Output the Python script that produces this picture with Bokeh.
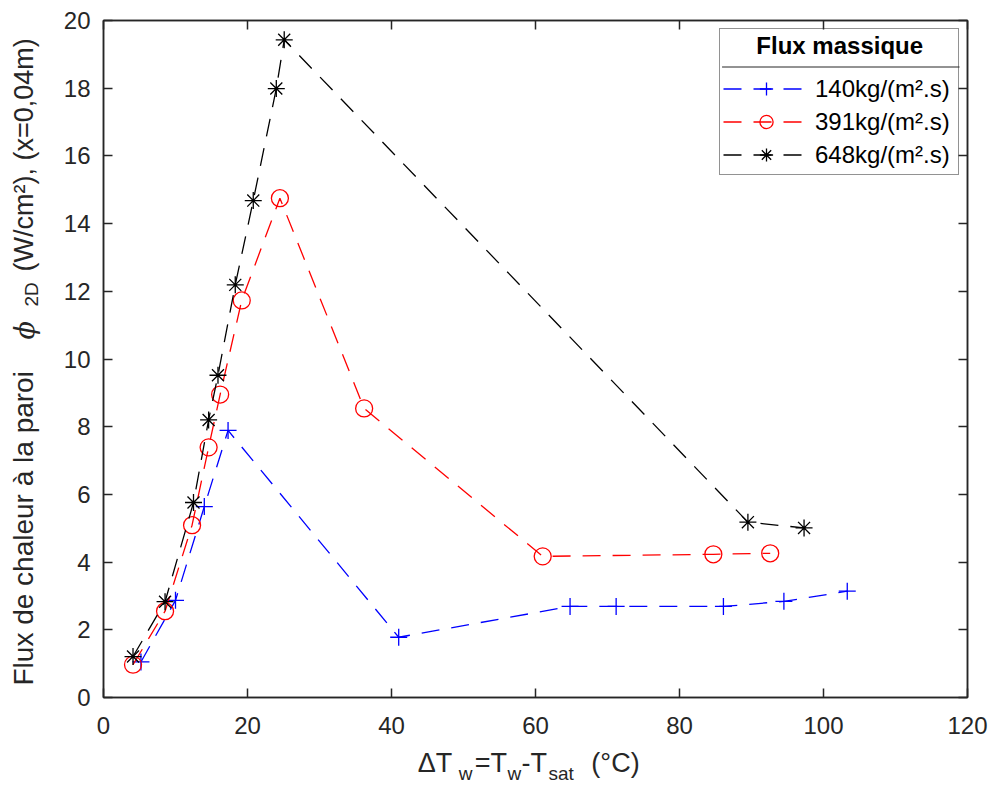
import math
from bokeh.plotting import figure
from bokeh.layouts import row, column
from bokeh.models import Range1d, LinearAxis, Legend, LegendItem, FixedTicker
from bokeh.core.properties import value
from bokeh.embed import file_html
from bokeh.resources import INLINE

# ---------------- data ----------------
x_ticks = [0, 20, 40, 60, 80, 100, 120]
y_ticks = [0, 2, 4, 6, 8, 10, 12, 14, 16, 18, 20]

legend_title = "Flux massique"
labels = ["140kg/(m².s)", "391kg/(m².s)", "648kg/(m².s)"]

dT_140 = [5.2, 10.0, 14.0, 17.3, 41.0, 64.8, 71.2, 86.1, 94.5, 103.3]
phi_140 = [1.05, 2.87, 5.64, 7.89, 1.78, 2.69, 2.69, 2.69, 2.84, 3.14]

dT_391 = [4.1, 8.55, 12.3, 14.6, 16.2, 19.2, 24.5, 36.2, 61.0, 84.7, 92.6]
phi_391 = [0.97, 2.55, 5.09, 7.39, 8.95, 11.73, 14.75, 8.54, 4.17, 4.23, 4.26]

dT_648 = [4.1, 8.55, 12.5, 14.6, 15.9, 18.3, 20.8, 24.0, 25.1, 89.5, 97.3]
phi_648 = [1.21, 2.83, 5.76, 8.2, 9.52, 12.19, 14.68, 17.99, 19.43, 5.18, 5.01]

x_label_parts = ["ΔT", "w", "=T", "w", "-T", "sat", "(°C)"]
y_label_parts = ["Flux de chaleur à la paroi", "ϕ", "2D", "(W/cm²), (x=0,04m)"]

colors = ["#0000FF", "#FF0000", "#000000"]
markers = ["cross", "circle", "asterisk"]

AX = "#262626"
FONT = "Liberation Sans"
PAGE_H = 787
YL_W = 60
MAIN_W = 930
MAIN_H = 744
FRAME_L, FRAME_R = 101, 967          # page x of the plot frame
FRAME_W, FRAME_H = FRAME_R - FRAME_L, 677
X_MAX, Y_MAX = 120, 20

# ---------------- main plot ----------------
p = figure(width=MAIN_W, height=MAIN_H,
           min_border_left=FRAME_L - YL_W, min_border_right=MAIN_W - (FRAME_R - YL_W),
           min_border_top=20, min_border_bottom=47,
           x_range=Range1d(0, X_MAX), y_range=Range1d(0, Y_MAX),
           output_backend="svg", toolbar_location=None)
p.xgrid.visible = False
p.ygrid.visible = False
p.outline_line_color = AX
p.outline_line_width = 1.5


def style_axis(ax, ticks, show_labels):
    ax.ticker = FixedTicker(ticks=ticks)
    ax.axis_line_color = AX
    ax.axis_line_width = 1.5
    ax.major_tick_line_color = AX
    ax.major_tick_line_width = 1.5
    ax.major_tick_in = 9
    ax.major_tick_out = 0
    ax.minor_tick_line_color = None
    ax.major_label_text_font = FONT
    ax.major_label_text_font_size = "24px"
    ax.major_label_text_color = AX if show_labels else None
    ax.axis_label = None


style_axis(p.xaxis[0], x_ticks, True)
style_axis(p.yaxis[0], y_ticks, True)
p.xaxis[0].major_label_standoff = 19
p.yaxis[0].major_label_standoff = 13

top_ax = LinearAxis()
style_axis(top_ax, x_ticks, False)
top_ax.major_label_standoff = 0
p.add_layout(top_ax, "above")
right_ax = LinearAxis()
style_axis(right_ax, y_ticks, False)
right_ax.major_label_standoff = 0
p.add_layout(right_ax, "right")

items = []
for xs, ys, c, m, lab in [(dT_140, phi_140, colors[0], markers[0], labels[0]),
                          (dT_391, phi_391, colors[1], markers[1], labels[1]),
                          (dT_648, phi_648, colors[2], markers[2], labels[2])]:
    lr = p.line(xs, ys, line_color=c, line_width=1.3, line_dash="18 12")
    sr = p.scatter(xs, ys, marker=m, size=17, line_color=c, fill_color=None, line_width=1.3)
    items.append(LegendItem(label=lab, renderers=[lr, sr]))

LEG_MARGIN, LEG_W, SEP_PX = 8, 238, 46.5

# separator line under the legend title, derived from the legend geometry (pixels -> data)
dx = X_MAX / FRAME_W
dy = Y_MAX / FRAME_H
sep_x0 = X_MAX - (LEG_MARGIN + LEG_W) * dx
sep_x1 = X_MAX - LEG_MARGIN * dx
sep_y = Y_MAX - SEP_PX * dy
p.segment(x0=[sep_x0], y0=[sep_y], x1=[sep_x1], y1=[sep_y], line_color=AX, line_width=1)

legend = Legend(items=items, location="top_right", margin=LEG_MARGIN,
                title="\u00a0" * 5 + legend_title,
                title_text_font=FONT, title_text_font_size="24px", title_text_font_style="bold",
                title_text_color="black", title_standoff=12,
                label_text_font=FONT, label_text_font_size="24px", label_text_color="black",
                glyph_width=86, glyph_height=33, label_height=20, label_width=140,
                label_standoff=6, padding=3, spacing=0,
                border_line_color=AX, border_line_width=1, background_fill_color="white",
                background_fill_alpha=0.0)
p.add_layout(legend)

# ---------------- x axis label strip (x range = page pixels of the aligned frame) ----------------
XL_H = PAGE_H - MAIN_H
xl = figure(width=MAIN_W, height=XL_H,
            min_border_left=FRAME_L - YL_W, min_border_right=MAIN_W - (FRAME_R - YL_W),
            min_border_top=0, min_border_bottom=0,
            x_range=Range1d(FRAME_L, FRAME_R), y_range=Range1d(0, XL_H),
            x_axis_type=None, y_axis_type=None,
            output_backend="svg", toolbar_location=None)
xl.grid.visible = False
xl.outline_line_color = None
xl_x = [416, 457, 473, 506, 520, 547, 590]          # page x of each piece
xl_base = [772, 780, 772, 780, 772, 780, 772]        # page baseline of each piece
xl_fs = [27, 19, 27, 19, 27, 19, 27]
for t, px, py, fs in zip(x_label_parts, xl_x, xl_base, xl_fs):
    xl.text(x=[px], y=[PAGE_H - (py - 0.35 * fs)], text=[t], text_font=value(FONT),
            text_font_size=value(f"{fs}px"), text_color=AX, text_align="left",
            text_baseline="middle")

# ---------------- y axis label strip ----------------
yl = figure(width=YL_W, height=PAGE_H,
            min_border_left=0, min_border_right=0, min_border_top=0, min_border_bottom=0,
            x_range=Range1d(0, YL_W), y_range=Range1d(0, PAGE_H),
            x_axis_type=None, y_axis_type=None,
            output_backend="svg", toolbar_location=None)
yl.grid.visible = False
yl.outline_line_color = None
yl_base = [33, 33, 38, 33]          # page x of baseline
yl_start = [685, 339, 306, 271]     # page y where each piece starts
yl_fs = [28, 27, 19, 27]
yl_font = [FONT, "DejaVu Serif", FONT, FONT]
yl_style = ["normal", "italic", "normal", "normal"]
for t, bx, sy, fs, f, st in zip(y_label_parts, yl_base, yl_start, yl_fs, yl_font, yl_style):
    yl.text(x=[bx - 0.35 * fs], y=[PAGE_H - sy], text=[t], text_font=value(f), text_font_style=st,
            text_font_size=value(f"{fs}px"), text_color=AX, angle=math.pi / 2,
            text_align="left", text_baseline="middle")

layout = row(yl, column(p, xl))
open("out.html", "w").write(file_html(layout, INLINE))
